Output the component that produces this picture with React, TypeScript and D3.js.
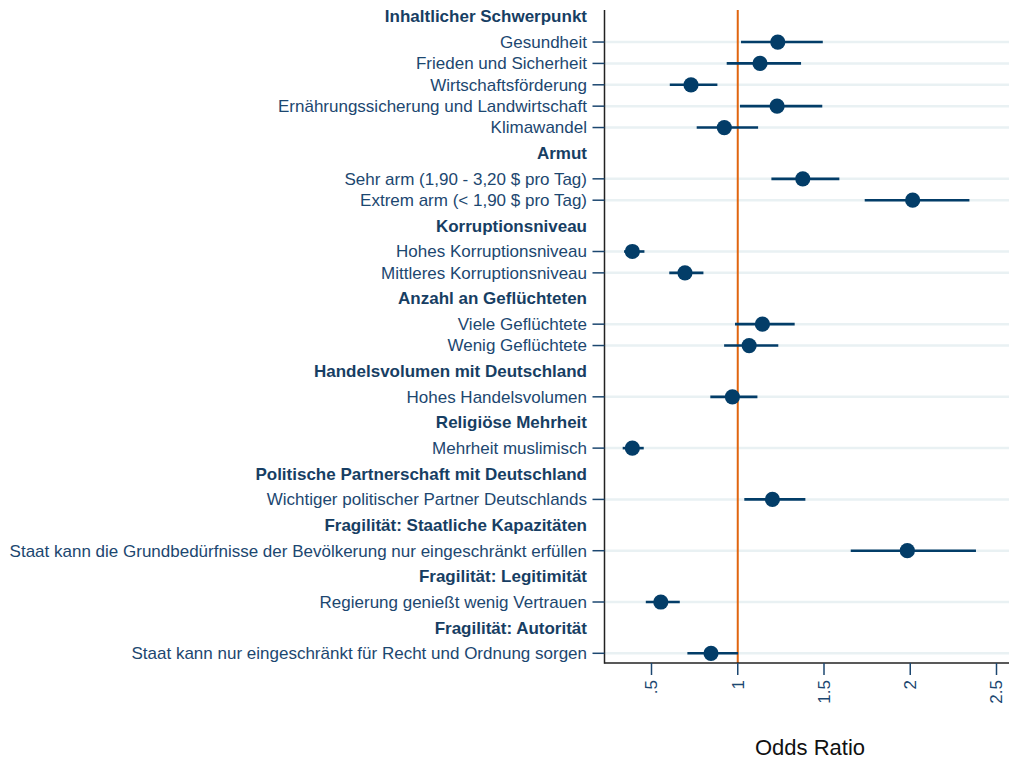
import React from "react";
import * as d3 from "d3";

// Rows: headers (bold, no mark) and items (with estimate + CI)
const groups: string[] = [
  "Inhaltlicher Schwerpunkt",
  "Armut",
  "Korruptionsniveau",
  "Anzahl an Geflüchteten",
  "Handelsvolumen mit Deutschland",
  "Religiöse Mehrheit",
  "Politische Partnerschaft mit Deutschland",
  "Fragilität: Staatliche Kapazitäten",
  "Fragilität: Legitimität",
  "Fragilität: Autorität",
];

const itemLabels: string[] = [
  "Gesundheit",
  "Frieden und Sicherheit",
  "Wirtschaftsförderung",
  "Ernährungssicherung und Landwirtschaft",
  "Klimawandel",
  "Sehr arm (1,90 - 3,20 $ pro Tag)",
  "Extrem arm (< 1,90 $ pro Tag)",
  "Hohes Korruptionsniveau",
  "Mittleres Korruptionsniveau",
  "Viele Geflüchtete",
  "Wenig Geflüchtete",
  "Hohes Handelsvolumen",
  "Mehrheit muslimisch",
  "Wichtiger politischer Partner Deutschlands",
  "Staat kann die Grundbedürfnisse der Bevölkerung nur eingeschränkt erfüllen",
  "Regierung genießt wenig Vertrauen",
  "Staat kann nur eingeschränkt für Recht und Ordnung sorgen",
];

const itemGroup: number[] = [0, 0, 0, 0, 0, 1, 1, 2, 2, 3, 3, 4, 5, 6, 7, 8, 9];

const estimates: number[] = [
  1.232, 1.129, 0.729, 1.228, 0.922, 1.377, 2.014, 0.389, 0.694, 1.143, 1.066,
  0.969, 0.389, 1.201, 1.983, 0.554, 0.845,
];
const ciLow: number[] = [
  1.019, 0.936, 0.606, 1.013, 0.762, 1.195, 1.736, 0.341, 0.603, 0.984, 0.921,
  0.841, 0.333, 1.038, 1.655, 0.467, 0.708,
];
const ciHigh: number[] = [
  1.493, 1.367, 0.882, 1.49, 1.118, 1.589, 2.343, 0.459, 0.801, 1.33, 1.235,
  1.114, 0.455, 1.392, 2.381, 0.664, 1.002,
];

const xTicks: number[] = [0.5, 1, 1.5, 2, 2.5];
const xTickLabels: string[] = [".5", "1", "1.5", "2", "2.5"];

const W = 1009;
const H = 759;
const plotLeft = 604.5;
const plotRight = 1012;
const plotTop = 10;
const plotBottom = 663;

const TEXT = "#1c4770";
const HEAD = "#173e63";
const MARK = "#033d68";
const GRID = "#e9f1f3";
const REF = "#e0650f";
const FONT = "'Liberation Sans', Arial, Helvetica, sans-serif";

type Row = { kind: "h" | "i"; label: string; pos: number; idx: number };

function buildRows(): Row[] {
  const rows: Row[] = [];
  let pos = 0;
  let prev: "h" | "i" | null = null;
  groups.forEach((g, gi) => {
    if (prev !== null) pos += 1.2;
    rows.push({ kind: "h", label: g, pos, idx: gi });
    prev = "h";
    itemLabels.forEach((lab, ii) => {
      if (itemGroup[ii] !== gi) return;
      pos += prev === "h" ? 1.2 : 1;
      rows.push({ kind: "i", label: lab, pos, idx: ii });
      prev = "i";
    });
  });
  return rows;
}

export default function App() {
  const rows = buildRows();
  const maxPos = d3.max(rows, (r) => r.pos) as number;

  const x = d3.scaleLinear().domain([0.5, 2.5]).range([651.5, 996.5]);
  const y = d3.scaleLinear().domain([0, maxPos]).range([16.4, 653.3]);

  return (
    <svg
      width={W}
      height={H}
      style={{ position: "absolute", left: 0, top: 0, background: "#fff" }}
      fontFamily={FONT}
    >
      <rect x={0} y={0} width={W} height={H} fill="#fff" />
      {/* grid lines */}
      {rows
        .filter((r) => r.kind === "i")
        .map((r) => (
          <line
            key={"g" + r.idx}
            x1={plotLeft}
            x2={plotRight}
            y1={y(r.pos)}
            y2={y(r.pos)}
            stroke={GRID}
            strokeWidth={2.5}
          />
        ))}
      {/* reference line */}
      <line
        x1={x(1)}
        x2={x(1)}
        y1={plotTop}
        y2={plotBottom}
        stroke={REF}
        strokeWidth={2}
      />
      {/* CIs and markers */}
      {rows
        .filter((r) => r.kind === "i")
        .map((r) => (
          <g key={"m" + r.idx}>
            <line
              x1={x(ciLow[r.idx])}
              x2={x(ciHigh[r.idx])}
              y1={y(r.pos)}
              y2={y(r.pos)}
              stroke={MARK}
              strokeWidth={2.6}
            />
            <circle cx={x(estimates[r.idx])} cy={y(r.pos)} r={7.6} fill={MARK} />
          </g>
        ))}
      {/* frame */}
      <line x1={plotLeft} x2={plotLeft} y1={plotTop} y2={plotBottom + 0.75} stroke="#222" strokeWidth={1.5} />
      <line x1={plotLeft} x2={plotRight} y1={plotBottom} y2={plotBottom} stroke="#222" strokeWidth={1.5} />
      {/* y labels and ticks */}
      {rows.map((r) =>
        r.kind === "h" ? (
          <text
            key={"h" + r.idx}
            x={587}
            y={y(r.pos)}
            dy="0.35em"
            textAnchor="end"
            fontSize={17}
            fontWeight="bold"
            fill={HEAD}
          >
            {r.label}
          </text>
        ) : (
          <g key={"l" + r.idx}>
            <line x1={592.5} x2={plotLeft} y1={y(r.pos)} y2={y(r.pos)} stroke={TEXT} strokeWidth={1.5} />
            <text
              x={587}
              y={y(r.pos)}
              dy="0.35em"
              textAnchor="end"
              fontSize={17}
              fill={TEXT}
            >
              {r.label}
            </text>
          </g>
        )
      )}
      {/* x ticks */}
      {xTicks.map((t, i) => (
        <g key={"t" + t}>
          <line x1={x(t)} x2={x(t)} y1={plotBottom} y2={675} stroke={TEXT} strokeWidth={1.5} />
          <text
            transform={`translate(${x(t)},680) rotate(-90)`}
            dy="0.35em"
            textAnchor="end"
            fontSize={17}
            fill={TEXT}
          >
            {xTickLabels[i]}
          </text>
        </g>
      ))}
      <text x={810} y={755} textAnchor="middle" fontSize={22} fill="#111">
        Odds Ratio
      </text>
    </svg>
  );
}
